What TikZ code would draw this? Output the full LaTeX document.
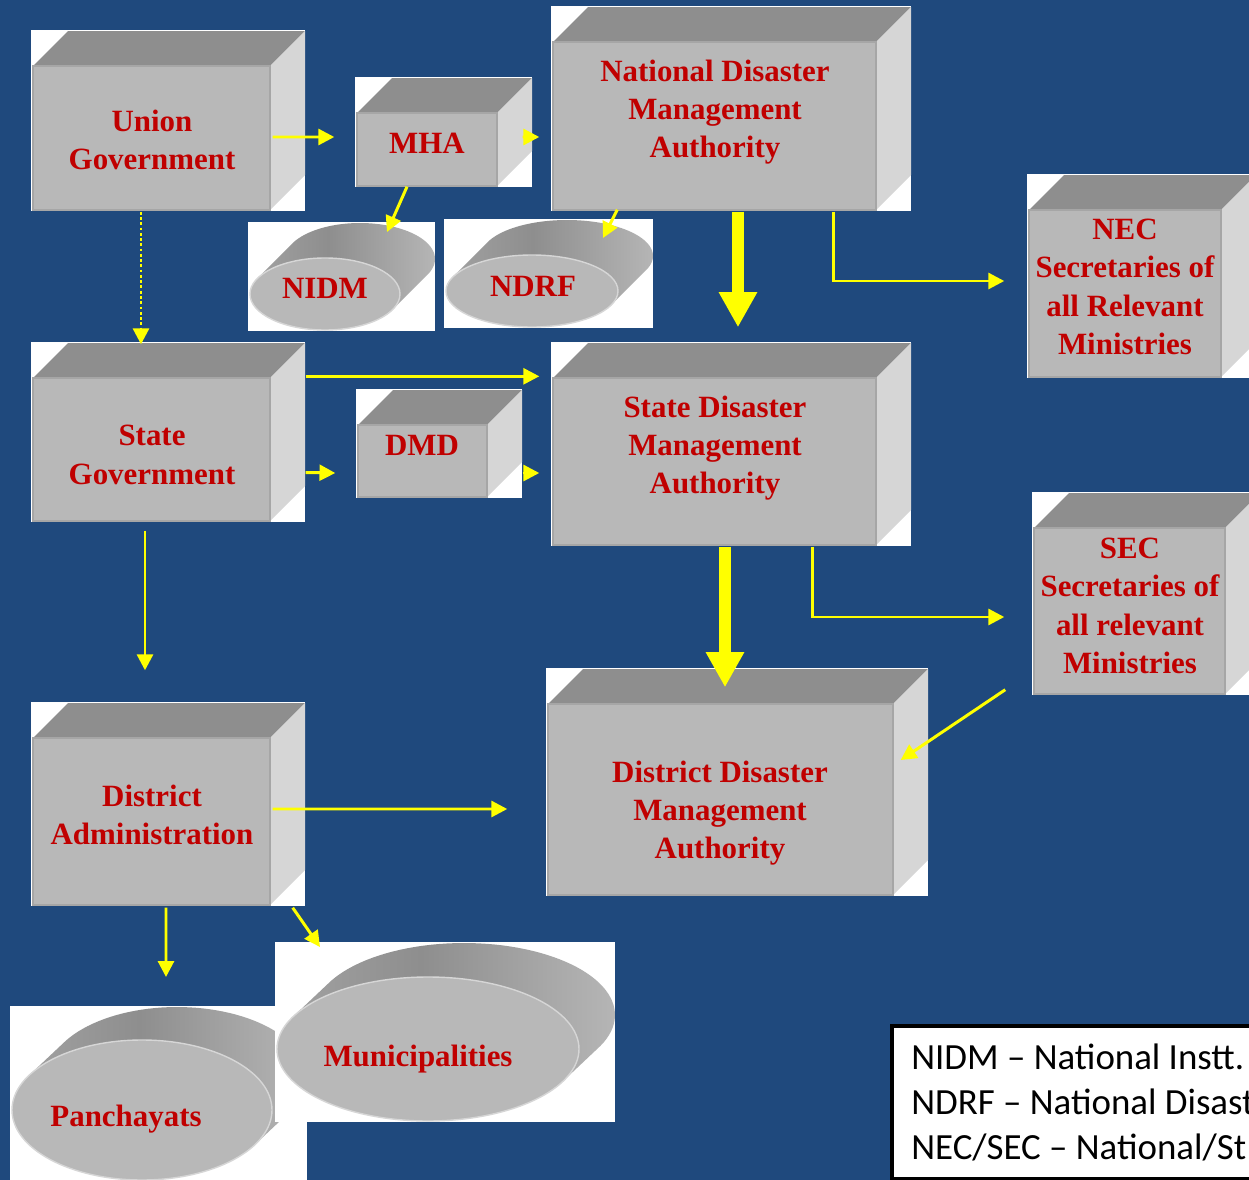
\documentclass[tikz,border=0pt]{standalone}
\usepackage{fontspec}
\setmainfont{Liberation Serif}
\newfontfamily\keyfont{Carlito}
\usetikzlibrary{positioning,fit,calc,shapes.geometric,arrows.meta}

\definecolor{deepblue}{RGB}{31,73,125}
\definecolor{facefront}{RGB}{184,184,184}
\definecolor{facetop}{RGB}{142,142,142}
\definecolor{faceside}{RGB}{214,214,214}
\definecolor{facerim}{RGB}{166,166,166}
\definecolor{labelred}{RGB}{192,0,0}
\definecolor{arrowyellow}{RGB}{255,255,0}
\pgfdeclarehorizontalshading{diskside}{100bp}{color(0bp)=(facefront); color(45bp)=(facetop); color(100bp)=(faceside)}

% cuboid: name, front face corners (px)
\newcommand{\cuboid}[5]{%
  \fill[white] ({#2-2},{#3-36}) rectangle ({#4+35},{#5+1});
  \fill[facetop] (#2,#3) -- ++(35,-35) -- ({#4+35},{#3-35}) -- (#4,#3) -- cycle;
  \fill[faceside] (#4,#3) -- ++(35,-35) -- ({#4+35},{#5-35}) -- (#4,#5) -- cycle;
  \node[front, fit={(#2,#3)(#4,#5)}] (#1) {};}

% disk: name, centre, radii, depth, text, text position
\newcommand{\disk}[9]{%
  \pgfmathsetmacro\diskt{atan(#5/#4)}%
  \pgfmathsetmacro\diskpx{#4*cos(\diskt)}%
  \pgfmathsetmacro\diskpy{#5*sin(\diskt)}%
  \fill[white] ({#2-#4-2},{#3+#7-#5-1}) rectangle ({#2+#6+#4},{#3+#5+1});
  \shade[shading=diskside] ({#2+\diskpx},{#3+\diskpy})
    -- plot[domain={\diskt}:{\diskt-180}, samples=60] ({#2+#6+#4*cos(\x)},{#3+#7+#5*sin(\x)})
    -- ({#2-\diskpx},{#3-\diskpy}) -- cycle;
  \draw (#2,#3) node[diskface, minimum width={2*#4*0.02cm}, minimum height={2*#5*0.02cm}] (#1) {};
  \draw (#9) node[lbl] (#1-t) {#8};}

\begin{document}
\begin{tikzpicture}
	[x=0.02cm, y=-0.02cm,
	front/.style ={rectangle, fill=facefront, draw=facerim, line width=0.8pt, inner sep=0pt},
	diskface/.style ={ellipse, fill=facefront, draw=faceside, line width=0.8pt, inner sep=0pt},
	lbl/.style ={text=labelred, font=\fontsize{17.6}{21.8}\selectfont\bfseries, align=center, inner sep=0pt},
	arr/.style ={draw=arrowyellow, line width=1.7pt, -{Triangle[length=9pt,width=9pt]}},
	bigarr/.style ={draw=arrowyellow, line width=7pt, -{Triangle[length=20pt,width=20.5pt]}},
	keybox/.style ={draw=black, fill=white, line width=2.3pt, minimum width=9cm, minimum height=3.06cm},
	keytext/.style ={align=left, inner sep=0pt, font=\keyfont\fontsize{21}{25.6}\selectfont},
	]

	\useasboundingbox (0,0) rectangle (1249,1180);
	\clip (0,0) rectangle (1249,1180);
	\fill[deepblue] (0,0) rectangle (1249,1180);

	% boxes
	\cuboid{ug}{33}{66}{270}{210}
	\cuboid{mha}{357}{113}{497}{186}
	\cuboid{ndma}{553}{42}{876}{210}
	\cuboid{nec}{1029}{210}{1221}{377}
	\cuboid{sg}{33}{378}{270}{521}
	\cuboid{dmd}{358}{425}{487}{497}
	\cuboid{sdma}{553}{378}{876}{545}
	\cuboid{sec}{1034}{528}{1225}{694}
	\cuboid{da}{33}{738}{270}{905}
	\cuboid{ddma}{548}{704}{893}{895}

	\draw (152,140) node[lbl] (ug-t) {Union\\Government};
	\draw (427,143) node[lbl] (mha-t) {MHA};
	\draw (715,112) node[lbl] (ndma-t) {National Disaster\\Management\\Authority};
	\draw (1125,287) node[lbl] (nec-t) {NEC\\Secretaries of\\all Relevant\\Ministries};
	\draw (152,455) node[lbl] (sg-t) {State\\Government};
	\draw (422,445) node[lbl] (dmd-t) {DMD};
	\draw (715,448) node[lbl] (sdma-t) {State Disaster\\Management\\Authority};
	\draw (1130,606) node[lbl] (sec-t) {SEC\\Secretaries of\\all relevant\\Ministries};
	\draw (152,815) node[lbl] (da-t) {District\\Administration};
	\draw (720,813) node[lbl] (ddma-t) {District Disaster\\Management\\Authority};

	% disks
	\disk{nidm}{325}{294}{75}{36}{35}{-35}{NIDM}{325,288}
	\disk{ndrf}{532}{291}{86}{36}{35}{-35}{NDRF}{533,286}
	\disk{panch}{142}{1110}{130}{70}{35}{-33}{Panchayats}{126,1119}
	\disk{muni}{428}{1049}{151}{72}{36}{-34}{Municipalities}{418,1059}

	% key
	\draw (890,1024) node[keybox, anchor=north west] (key) {};
	\draw ($(key.west)+(21,0)$) node[keytext, anchor=west] (key-t)
		{NIDM – National Instt.\\NDRF – National Disast\\NEC/SEC – National/St};

	% connectors
	\draw[arr] ($(ug.east)+(2,-1)$) -- ($(mha.west)+(-22,-12.5)$);
	\draw[arr] ($(mha.east)+(25,-12.5)$) -- ($(ndma.west)+(-13,11)$);
	\draw[arr] ($(mha.south)+(-20,0)$) -- ($(nidm.center)+(62,-62)$);
	\draw[arr] ($(ndma.south west)+(65,-1)$) -- ($(ndrf.center)+(71,-53)$);
	\draw[arr, dash pattern=on 1.6pt off 1.4pt] ($(ug.south)+(-10.5,1)$) -- ($(sg.north)+(-10.5,-33)$);
	\draw[bigarr] ($(ndma.south)+(23.5,1)$) -- ($(sdma.north)+(23.5,-50)$);
	\draw[arr] ($(ndma.south east)+(-43,1)$) |- ($(nec.west)+(-24,-12.5)$);
	\draw[arr] ($(sg.north east)+(35,-1)$) -- ($(sdma.north west)+(-13,-1)$);
	\draw[arr] ($(sg.east)+(35,23)$) -- ($(dmd.west)+(-22,12)$);
	\draw[arr] ($(dmd.east)+(35,12)$) -- ($(sdma.west)+(-13,11.5)$);
	\draw[arr] ($(sg.south)+(-6.5,9)$) -- ($(da.north)+(-6.5,-67)$);
	\draw[bigarr] ($(sdma.south)+(10.5,1)$) -- ($(ddma.north)+(4.5,-16)$);
	\draw[arr] ($(sdma.south east)+(-64,1)$) |- ($(sec.west)+(-29,6)$);
	\draw[arr] ($(sec.south west)+(-28,-5)$) -- ($(ddma.east)+(7,-39.5)$);
	\draw[arr] ($(da.east)+(2,-12.5)$) -- ($(ddma.west)+(-40,9.5)$);
	\draw[arr] ($(da.south)+(14.5,2)$) -- ($(panch.center)+(24,-133)$);
	\draw[arr] ($(da.south east)+(22,2)$) -- ($(muni.center)+(-108,-102)$);

\end{tikzpicture}
\end{document}
